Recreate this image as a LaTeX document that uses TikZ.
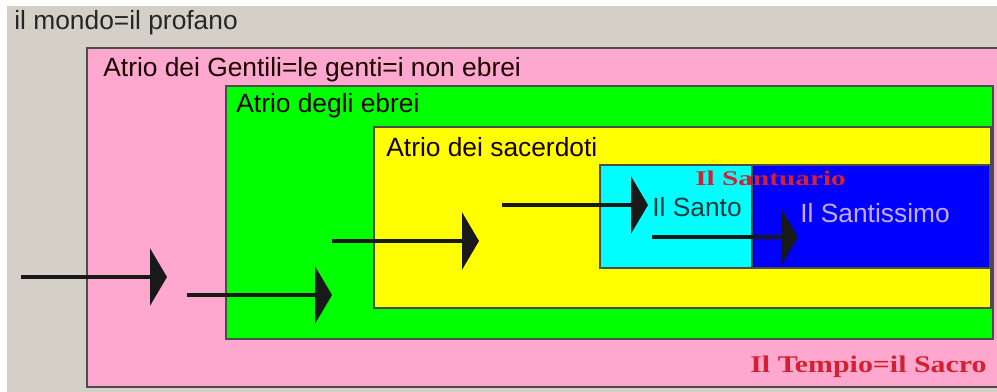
\documentclass[tikz,border=0pt]{standalone}
\usepackage{fontspec}
\usepackage{graphicx}
\setmainfont{Liberation Sans}
\newfontfamily\templefont{Liberation Serif}
\usetikzlibrary{arrows.meta}

\definecolor{wallgray}{HTML}{D4D0C8}
\definecolor{gentilipink}{HTML}{FFA8CF}
\definecolor{ebreigreen}{HTML}{00FF00}
\definecolor{sacerdyellow}{HTML}{FFFF00}
\definecolor{santocyan}{HTML}{00FFFF}
\definecolor{santissblue}{HTML}{0000FF}
\definecolor{sacrored}{HTML}{D42030}
\definecolor{santotext}{HTML}{0A3A3A}
\definecolor{santisstext}{HTML}{C4ACFF}

\begin{document}
\begin{tikzpicture}[
    x=0.02cm, y=-0.02cm,
    region/.style={draw=black!70, line width=0.8pt},
    label/.style={anchor=base west, inner sep=0pt, text=black!90!red, font=\fontsize{15pt}{18pt}\selectfont},
    holy/.style={anchor=base west, inner sep=0pt, text=sacrored, font=\templefont\bfseries\fontsize{13.6pt}{16pt}\selectfont},
    arrow/.style={-{Triangle[length=0.34cm, width=1.14cm]}, line width=2.1pt, black!90}
]
    \useasboundingbox (0,0) rectangle (997,392);
    \fill[white] (0,0) rectangle (997,392);
    \fill[wallgray] (7,6) rectangle (997,392);

    % the nested courts
    \draw[region, fill=gentilipink] (87,48) rectangle (1000,387);
    \draw[region, fill=ebreigreen] (226,86) rectangle (993,339);
    \draw[region, fill=sacerdyellow] (374,127) rectangle (991,308);
    \draw[region, fill=santocyan] (600,165) rectangle (752,268);
    \draw[region, fill=santissblue] (752,165) rectangle (990,268);

    % labels
    \node[label, text=black!85] (mondo) at (14,30) {il mondo=il profano};
    \node[label] (gentili) at (103,76) {Atrio dei Gentili=le genti=i non ebrei};
    \node[label] (ebrei) at (236,112) {Atrio degli ebrei};
    \node[label] (sacerdoti) at (386,156) {Atrio dei sacerdoti};
    \node[label, text=santotext] (santo) at (652,216) {Il Santo};
    \node[label, text=santisstext] (santissimo) at (800,222) {Il Santissimo};
    \node[holy, font=\templefont\bfseries\fontsize{11.9pt}{14pt}\selectfont] (santuario) at (695,185) {\scalebox{1.4}[1]{Il Santuario}};
    \node[holy] (tempio) at (750,372) {\scalebox{1.25}[1]{Il Tempio=il Sacro}};

    % the way in
    \coordinate (a1) at (21,277);  \coordinate (b1) at (167,277);
    \coordinate (a2) at (187,295); \coordinate (b2) at (332,295);
    \coordinate (a3) at (332,241); \coordinate (b3) at (479,241);
    \coordinate (a4) at (502,205); \coordinate (b4) at (648,205);
    \coordinate (a5) at (652,237); \coordinate (b5) at (798,237);
    \foreach \i in {1,...,5}
        \draw[arrow] (a\i) -- (b\i);
\end{tikzpicture}
\end{document}
